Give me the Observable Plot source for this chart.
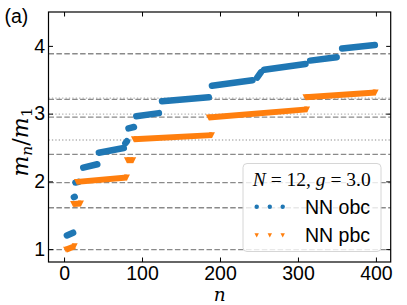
<!DOCTYPE html>
<html><head><meta charset="utf-8">
<script src="https://cdn.jsdelivr.net/npm/d3@7"></script>
<script src="https://cdn.jsdelivr.net/npm/@observablehq/plot@0.6"></script>
<style>
body{margin:0;background:#fff;}
#wrap{position:relative;width:407px;height:305px;overflow:hidden;}
</style></head><body><div id="wrap"></div>
<script>
// ---- data (segments of near-constant mass ratio) ----
const obcN0 = [3, 12, 14, 24, 44, 78, 82, 92, 125, 189, 247, 256, 315, 356];
const obcN1 = [11, 13, 18, 42, 76, 80, 89, 121, 185, 241, 252, 309, 349, 398];
const obcV0 = [1.21, 1.775, 1.99, 2.21, 2.43, 2.57, 2.79, 2.97, 3.19, 3.42, 3.54, 3.655, 3.79, 3.97];
const obcV1 = [1.25, 1.78, 2.00, 2.26, 2.50, 2.60, 2.81, 3.015, 3.25, 3.50, 3.62, 3.74, 3.84, 4.02];

const pbcN0 = [2, 11, 16, 80, 89, 185, 309];
const pbcN1 = [13, 21, 80, 88, 189, 311, 399];
const pbcV0 = [1.00, 1.675, 2.00, 2.32, 2.63, 2.95, 3.25];
const pbcV1 = [1.05, 1.68, 2.065, 2.32, 2.69, 3.07, 3.32];

const massLines = [1, 1.618, 1.989, 2.405, 2.956, 3.218, 3.891];
const dottedLines = [2.618, 3.0, 3.236];
const xTicks = [0, 100, 200, 300, 400];
const yTicks = [1, 2, 3, 4];
const legendTitle = ["N", " = 12, ", "g", " = 3.0"];
const seriesLabels = ["NN obc", "NN pbc"];
const panelLabel = "(a)";

// ---- layout ----
const W = 407, H = 305;
const mL = 48.5, mR = 16.3, mT = 12, mB = 43;
const fW = W - mL - mR, fH = H - mT - mB;
const tickLen = 4.5;
const blue = "#1f77b4", orange = "#ff7f0e";

const triDown = {draw(ctx, size){ const r = Math.sqrt(size/Math.PI);
  ctx.moveTo(-r,-r); ctx.lineTo(r,-r); ctx.lineTo(0,r); ctx.closePath(); }};

const obcIdx = d3.range(obcN0.length);
const pbcIdx = d3.range(pbcN0.length);

const svg = Plot.plot({
  width: W, height: H,
  marginLeft: mL, marginRight: mR, marginTop: mT, marginBottom: mB,
  style: {fontFamily: "'Liberation Sans', Arial, sans-serif", fontSize: "19.5px", background: "white", overflow: "visible"},
  x: {domain: [-19.95, 418.95]},
  y: {domain: [0.81, 4.5]},
  marks: [
    Plot.ruleY(dottedLines, {y: d => d, stroke: "#b3b3b3", strokeWidth: 1.3, strokeDasharray: "1.3,2.1"}),
    Plot.ruleY(massLines, {y: d => d, stroke: "#8a8a8a", strokeWidth: 1.3, strokeDasharray: "5.5,2.4"}),
    Plot.link(obcIdx, {x1: i => obcN0[i], x2: i => obcN1[i], y1: i => obcV0[i], y2: i => obcV1[i],
      stroke: blue, strokeWidth: 6.5, strokeLinecap: "round"}),
    Plot.link(pbcIdx, {x1: i => pbcN0[i], x2: i => pbcN1[i], y1: i => pbcV0[i], y2: i => pbcV1[i],
      stroke: orange, strokeWidth: 6, strokeLinecap: "butt"}),
    Plot.dot(pbcIdx, {x: i => pbcN0[i], y: i => pbcV0[i], symbol: triDown, r: 3, fill: orange, stroke: "none"}),
    Plot.dot(pbcIdx, {x: i => pbcN1[i], y: i => pbcV1[i], symbol: triDown, r: 3, fill: orange, stroke: "none"}),
    Plot.tickX(xTicks, {x: d => d, stroke: "black", strokeWidth: 1, insetTop: fH - tickLen}),
    Plot.tickX(xTicks, {x: d => d, stroke: "black", strokeWidth: 1, insetBottom: fH - tickLen}),
    Plot.tickY(yTicks, {y: d => d, stroke: "black", strokeWidth: 1, insetRight: fW - tickLen}),
    Plot.tickY(yTicks, {y: d => d, stroke: "black", strokeWidth: 1, insetLeft: fW - tickLen}),
    Plot.axisX(xTicks, {tickSize: 0, tickPadding: 3.5, label: null, fontSize: 19.5, fill: "black", tickFormat: d => String(d)}),
    Plot.axisY(yTicks, {tickSize: 0, tickPadding: 4, label: null, fontSize: 19.5, fill: "black", tickFormat: d => String(d)}),
  ]
});

const s = d3.select(svg);
// legend
const lg = s.append("g").attr("text-anchor", "start");
lg.append("rect").attr("x", 243).attr("y", 163.5).attr("width", 138).attr("height", 88).attr("rx", 4)
  .attr("fill", "white").attr("fill-opacity", 0.8).attr("stroke", "#d6d6d6").attr("stroke-width", 1);
const tt = lg.append("text").attr("x", 311.8).attr("y", 185.5).attr("text-anchor", "middle")
  .attr("font-family", "'Liberation Serif', 'DejaVu Serif', serif").attr("font-size", 19.5).attr("fill", "black");
legendTitle.forEach((t, i) => tt.append("tspan").attr("font-style", i % 2 === 0 ? "italic" : "normal").text(t));
[256.7, 269.8, 282.7].forEach(x => {
  lg.append("circle").attr("cx", x).attr("cy", 206.7).attr("r", 2.2).attr("fill", blue);
  lg.append("path").attr("d", `M${x-2.2},${233.2}L${x+2.2},${233.2}L${x},${237.6}Z`).attr("fill", orange);
});
seriesLabels.forEach((t, i) => lg.append("text").attr("x", 305).attr("y", i ? 241.5 : 214.2)
  .attr("text-anchor", "start").attr("font-size", 19.5).attr("fill", "black").text(t));

// frame
s.append("rect").attr("x", mL).attr("y", mT).attr("width", fW).attr("height", fH)
  .attr("fill", "none").attr("stroke", "black").attr("stroke-width", 1.2);

// axis labels
s.append("text").attr("x", mL + fW/2).attr("y", 300.5).attr("text-anchor", "middle").attr("fill", "black")
  .attr("font-family", "'DejaVu Serif', serif").attr("font-style", "italic").attr("font-size", 18.5).text("n");
const yl = s.append("text").attr("transform", "translate(28,142) rotate(-90)").attr("text-anchor", "middle")
  .attr("fill", "black").attr("font-family", "'DejaVu Serif', serif").attr("font-size", 22);
yl.append("tspan").attr("font-style", "italic").text("m");
yl.append("tspan").attr("font-style", "italic").attr("font-size", 15.5).attr("dy", 3.5).text("n");
yl.append("tspan").attr("dy", -3.5).text("/");
yl.append("tspan").attr("font-style", "italic").text("m");
yl.append("tspan").attr("font-size", 15.5).attr("dy", 3.5).text("1");

s.append("text").attr("x", 4.5).attr("y", 23).attr("text-anchor", "start").attr("font-size", 19.5)
  .attr("fill", "black").text(panelLabel);

document.getElementById("wrap").appendChild(svg);
</script></body></html>
